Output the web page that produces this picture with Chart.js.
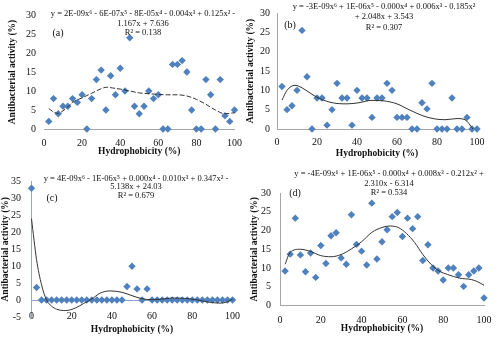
<!DOCTYPE html>
<html>
<head>
<meta charset="utf-8">
<script src="https://cdn.jsdelivr.net/npm/chart.js@4.4.0/dist/chart.umd.min.js"></script>
<style>
  html, body { margin: 0; padding: 0; background: #fff; }
  #wrap { position: relative; width: 500px; height: 339px; overflow: hidden; background: #fff; }
  #wrap canvas { position: absolute; }
</style>
</head>
<body>
<div id="wrap">
  <canvas id="chartA" width="250" height="165" style="left:0;top:0"></canvas>
  <canvas id="chartB" width="256" height="165" style="left:244px;top:0"></canvas>
  <canvas id="chartC" width="250" height="174" style="left:0;top:165px"></canvas>
  <canvas id="chartD" width="256" height="174" style="left:244px;top:165px"></canvas>
</div>
<script>
// hydrophobicity (%) of each peptide
const hydro = [2.5, 5, 7.5, 10, 12.5, 15, 17.5, 20, 22.5, 25, 27.5, 30, 32.5, 35, 37.5, 40, 42.5, 45, 47.5, 50,
               52.5, 55, 57.5, 60, 62.5, 65, 67.5, 70, 72.5, 75, 77.5, 80, 82.5, 85, 87.5, 90, 92.5, 95, 97.5, 100];
const hydroC = [0, 2.5, 5, 7.5, 10, 12.5, 15, 17.5, 20, 22.5, 25, 27.5, 30, 32.5, 35, 37.5, 40, 42.5, 45, 47.5, 50,
                52.5, 55, 57.5, 60, 62.5, 65, 67.5, 70, 72.5, 75, 77.5, 80, 82.5, 85, 87.5, 90, 92.5, 95, 97.5, 100];

// antibacterial activity (%)
const activityA = [2, 8, 4, 6, 6, 8, 7, 9, 0, 8, 13, 15.5, 5, 14, 9, 16, 10, 24, 6, 4,
                   6, 10, 8, 9, 0, 0, 17, 17, 18, 15, 5, 0, 0, 13, 9, 0, 13, 3.5, 2, 5];
const activityB = [11, 5, 6, 10, 25.5, 13.5, 0, 8, 8, 1, 5, 11.8, 8, 8, 1, 10, 8, 8, 3, 8,
                   8, 11.8, 10, 3, 3, 3, 0, 0, 6.8, 5.2, 11.8, 0, 0, 0, 8, 0, 0, 3, 0, 0];
const activityC = [33, 3.7, 0, 0, 0, 0, 0, 0, 0, 0, 0, 0, 0, 0, 0, 0, 0, 0, 0, 4, 10,
                   3.3, 0, 3.3, 0, 0, 0, 0, 0, 0, 0, 0, 0, 0, 0, 0, 0, 0, 0, 0, 0];
const activityD = [9.2, 13.7, 23.3, 13.5, 9, 14, 7.5, 16, 11.2, 18.6, 19.4, 12.7, 11, 24.2, 16.3, 14.5, 10.8, 27.3, 12.4, 17,
                   20.2, 23.7, 24.8, 18.4, 23.3, 20.5, 23.7, 12, 16.2, 10, 9.2, 6.8, 10, 10, 8.2, 5.1, 8.2, 9.2, 10, 2];

// poly trendlines
const trendXA = [2.5, 5, 7.5, 10, 12.5, 15, 20, 25, 30, 33, 36, 40, 45, 50, 55, 60, 65, 70, 75, 80, 85, 90, 95, 100];
const trendYA = [5.4, 4.5, 4.1, 4.8, 5.8, 7, 8.2, 9.4, 10.6, 11, 10.8, 10.5, 10, 9.5, 9.3, 9.1, 9, 9, 8.7, 7.8, 6.5, 5, 4, 4.3];
const trendXB = [2.5, 5, 9, 13, 18, 23, 30, 35, 41, 47, 53, 60, 66, 73, 79, 84, 90, 94, 98];
const trendYB = [7.5, 10, 11.3, 10.5, 8.8, 7.5, 6.6, 6.5, 6.8, 7.4, 7.3, 6.5, 5, 3.4, 2.6, 2.4, 2.7, 2.4, 0];
const trendXC = [0, 2.5, 5, 7.5, 10, 12.5, 17, 22, 26, 30, 34, 39, 45, 50, 55, 60, 65, 70, 76, 82, 88, 94, 97, 100];
const trendYC = [24, 12, 4.5, 0, -1.8, -2.7, -3.1, -2.3, -1, 0.3, 2, 2.7, 2.3, 1.3, 0.4, 0.1, 0.3, 0.6, 0.5, 0.1, -0.6, -0.9, -0.6, 0.3];
const trendXD = [2.5, 5, 10, 15, 20, 25, 30, 35, 40, 45, 50, 54, 58, 62, 66, 70, 74, 78, 82, 88, 94, 97, 100];
const trendYD = [11, 14.2, 15, 14.4, 13.3, 13, 13.6, 15.1, 17, 19.5, 20.8, 21.2, 20.8, 19.2, 16.8, 13.6, 11, 9.2, 8.3, 7.3, 6.9, 6.3, 5.4];

// trendline labels
const eqA = ['y = 2E-09x⁶ - 6E-07x⁵ - 8E-05x⁴ - 0.004x³ + 0.125x² -', '1.167x + 7.636', 'R² = 0.138'];
const eqB = ['y = -3E-09x⁶ + 1E-06x⁵ - 0.000x⁴ + 0.006x³ - 0.185x²', '+ 2.048x + 3.543', 'R² = 0.307'];
const eqC = ['y = 4E-09x⁶ - 1E-06x⁵ + 0.000x⁴ - 0.010x³ + 0.347x² -', '5.138x + 24.03', 'R² = 0.679'];
const eqD = ['y = -4E-09x⁶ + 1E-06x⁵ - 0.000x⁴ + 0.008x³ - 0.212x² +', '2.310x - 6.314', 'R² = 0.534'];

Chart.defaults.font.family = "'Liberation Serif', 'Times New Roman', serif";
Chart.defaults.color = '#111';
Chart.defaults.animation = false;

const BLUE = '#4F81BD';

function panel(id, o) {
  const pts = o.xs.map((x, i) => ({ x: x, y: o.ys[i] }));
  const trend = o.tx.map((x, i) => ({ x: x, y: o.ty[i] }));

  // trendline equation + panel tag
  const eqnPlugin = {
    id: 'eqn' + id,
    afterDraw(chart) {
      const c = chart.ctx;
      c.save();
      c.fillStyle = '#111';
      c.textAlign = 'center';
      c.textBaseline = 'middle';
      c.font = "8.5px 'Liberation Serif'";
      o.eq.forEach((line, i) => c.fillText(line, o.eqX, o.eqY[i]));
      c.font = "10px 'Liberation Serif'";
      c.fillText(o.tag, o.tagX, o.tagY);
      c.restore();
    }
  };

  const scales = {
    x: {
      type: 'linear', min: 0, max: 100,
      afterFit: s => { s.height = o.xh; },
      grid: { display: false, drawTicks: false },
      border: { display: !o.zeroAxis, color: o.axisColor, width: 1 },
      ticks: { stepSize: 20, padding: o.xPad, font: { size: 10 }, display: !o.zeroAxis },
      title: { display: true, text: 'Hydrophobicity (%)', font: { size: 9.5, weight: 'bold' },
               padding: { top: 0, bottom: o.xTitlePad } }
    },
    y: {
      min: o.ymin, max: o.ymax,
      afterFit: s => { s.width = o.yw; },
      grid: { display: false, drawTicks: false },
      border: { display: o.yBorder, color: o.axisColor, width: 1 },
      ticks: { stepSize: 5, padding: o.yPad, font: { size: 10 } },
      title: { display: true, text: 'Antibacterial activity (%)', font: { size: 9.5, weight: 'bold' },
               padding: { top: o.yTitlePad, bottom: 0 } }
    }
  };
  if (o.zeroAxis) {
    // horizontal axis crossing at y = 0, labels next to it
    scales.x2 = {
      type: 'linear', axis: 'x', position: { y: 0 }, min: 0, max: 100,
      grid: { display: false, drawTicks: false },
      border: { display: true, color: o.axisColor, width: 1 },
      ticks: { stepSize: 20, padding: o.xPad, font: { size: 10 } }
    };
  }

  return new Chart(document.getElementById(id), {
    type: 'scatter',
    data: {
      datasets: [
        {
          type: 'line', data: trend, borderColor: '#333', borderWidth: 1, borderDash: o.dash || [],
          pointRadius: 0, fill: false, cubicInterpolationMode: 'monotone', clip: false
        },
        {
          data: pts, pointStyle: 'rectRot', pointRadius: 3.7,
          backgroundColor: BLUE, borderColor: BLUE, borderWidth: 0, clip: false
        }
      ]
    },
    options: {
      responsive: false,
      devicePixelRatio: 1,
      layout: { padding: o.pad },
      plugins: { legend: { display: false }, tooltip: { enabled: false } },
      scales: scales
    },
    plugins: [eqnPlugin]
  });
}

panel('chartA', {
  xs: hydro, ys: activityA, tx: trendXA, ty: trendYA, dash: [5, 2],
  ymin: 0, ymax: 30, pad: { top: 15, right: 9, left: 0, bottom: 0 },
  yw: 44, xh: 36, yPad: 8, yTitlePad: 7.3, xPad: 8, xTitlePad: 7.3,
  axisColor: '#A6A6A6', yBorder: false,
  eq: eqA, eqX: 143, eqY: [14, 24, 33], tag: '(a)', tagX: 58, tagY: 33
});

panel('chartB', {
  xs: hydro, ys: activityB, tx: trendXB, ty: trendYB,
  ymin: 0, ymax: 30, pad: { top: 12, right: 23, left: 0, bottom: 0 },
  yw: 33, xh: 36, yPad: 7, yTitlePad: 1.3, xPad: 7, xTitlePad: 5.3,
  axisColor: '#A6A6A6', yBorder: true,
  eq: eqB, eqX: 140, eqY: [7, 17, 28], tag: '(b)', tagX: 46, tagY: 25
});

panel('chartC', {
  xs: hydroC, ys: activityC, tx: trendXC, ty: trendYC, zeroAxis: true,
  ymin: -5, ymax: 35, pad: { top: 15, right: 8.5, left: 0, bottom: 0 },
  yw: 31.5, xh: 22, yPad: 10.5, yTitlePad: 0, xPad: 10, xTitlePad: 3.3,
  axisColor: '#8EA6C8', yBorder: true,
  eq: eqC, eqX: 136, eqY: [13.3, 21.7, 30.7], tag: '(c)', tagX: 52, tagY: 33
});

panel('chartD', {
  xs: hydro, ys: activityD, tx: trendXD, ty: trendYD,
  ymin: 0, ymax: 30, pad: { top: 28, right: 12, left: 0, bottom: 0 },
  yw: 36, xh: 33.5, yPad: 9, yTitlePad: 5.3, xPad: 8.5, xTitlePad: 4.3,
  axisColor: '#A6A6A6', yBorder: true,
  eq: eqD, eqX: 145, eqY: [8.3, 19, 28], tag: '(d)', tagX: 51, tagY: 28
});
</script>
</body>
</html>
